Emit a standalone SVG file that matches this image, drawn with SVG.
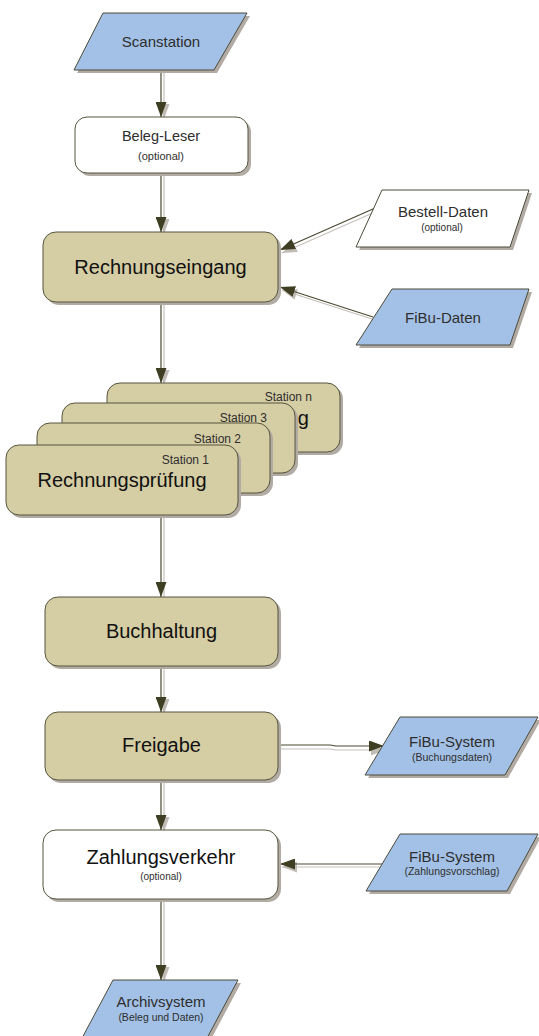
<svg xmlns="http://www.w3.org/2000/svg" width="539" height="1036" viewBox="0 0 539 1036">
<defs>
<style>
.sh{fill:#b2aba4;stroke:none}
.proc{fill:#d5cda4;stroke:#55553f;stroke-width:1}
.opt{fill:#ffffff;stroke:#55553f;stroke-width:1}
.data{fill:#a3c1e6;stroke:#4b4b3a;stroke-width:1}
.datw{fill:#ffffff;stroke:#4b4b3a;stroke-width:1}
text{font-family:"Liberation Sans",Arial,sans-serif;text-anchor:middle}
.big{font-size:20px;fill:#111}
.mid{font-size:15px;fill:#2e2e2e}
.sm{font-size:10.5px;fill:#2e2e2e}
.st{font-size:12px;fill:#2e2e2e;text-anchor:end}
.ln{fill:none;stroke:#4a4a33;stroke-width:1.2}
.lns{fill:none;stroke:#c6c0bb;stroke-width:1.2}
</style>
<marker id="ah" markerUnits="userSpaceOnUse" markerWidth="15" markerHeight="11" refX="15" refY="5.5" orient="auto">
<path d="M0,0 L15,5.5 L0,11 z" fill="#3e3e22"/>
</marker>
<marker id="ahs" markerUnits="userSpaceOnUse" markerWidth="15" markerHeight="11" refX="15" refY="5.5" orient="auto">
<path d="M0,0 L15,5.5 L0,11 z" fill="#c2bcb7"/>
</marker>
</defs>
<rect width="539" height="1036" fill="#ffffff"/>

<g id="connectors">
<path class="lns" marker-end="url(#ahs)" d="M164,72 L164,119"/>
<path class="ln" marker-end="url(#ah)" d="M161,70 L161,117"/>
<path class="lns" marker-end="url(#ahs)" d="M164,175 L164,234"/>
<path class="ln" marker-end="url(#ah)" d="M161,173 L161,232"/>
<path class="lns" marker-end="url(#ahs)" d="M384,208 L282,253"/>
<path class="ln" marker-end="url(#ah)" d="M382,205 L280,250"/>
<path class="lns" marker-end="url(#ahs)" d="M375,320 L282,290"/>
<path class="ln" marker-end="url(#ah)" d="M373,317 L280,287"/>
<path class="lns" marker-end="url(#ahs)" d="M164,304 L164,385"/>
<path class="ln" marker-end="url(#ah)" d="M161,302 L161,383"/>
<path class="lns" d="M164,518 L164,599"/>
<path class="ln" marker-end="url(#ah)" d="M161,515 L161,597"/>
<path class="lns" marker-end="url(#ahs)" d="M164,668 L164,714"/>
<path class="ln" marker-end="url(#ah)" d="M161,666 L161,712"/>
<path class="lns" marker-end="url(#ahs)" d="M280,749 L330,749 L336,750 L386,750"/>
<path class="ln" marker-end="url(#ah)" d="M278,745 L330,745 L336,746 L384,746"/>
<path class="lns" marker-end="url(#ahs)" d="M164,782 L164,832"/>
<path class="ln" marker-end="url(#ah)" d="M161,780 L161,830"/>
<path class="lns" marker-end="url(#ahs)" d="M384,867 L282,867"/>
<path class="ln" marker-end="url(#ah)" d="M382,864 L280,864"/>
<path class="lns" marker-end="url(#ahs)" d="M164,901 L164,982"/>
<path class="ln" marker-end="url(#ah)" d="M161,899 L161,980"/>
</g>

<g id="scanstation">
<polygon class="sh" points="106,16 250,16 217,73 77,73"/>
<polygon class="data" points="103,13 247,13 214,70 74,70"/>
<text class="mid" x="161" y="47">Scanstation</text>
</g>

<g id="beleg-leser">
<rect class="sh" x="78" y="120" width="173" height="56" rx="12"/>
<rect class="opt" x="75" y="117" width="173" height="56" rx="12"/>
<text x="161" y="141" style="font-size:14.5px;fill:#2e2e2e">Beleg-Leser</text>
<text x="161" y="160" style="font-size:11px;fill:#2e2e2e">(optional)</text>
</g>

<g id="rechnungseingang">
<rect class="sh" x="46" y="235" width="235" height="70" rx="13"/>
<rect class="proc" x="43" y="232" width="235" height="70" rx="13"/>
<text class="big" x="160.5" y="274">Rechnungseingang</text>
</g>

<g id="bestell-daten">
<polygon class="sh" points="385,193 532,193 513,250 359,250"/>
<polygon class="datw" points="382,190 529,190 510,247 356,247"/>
<text class="mid" x="443" y="217">Bestell-Daten</text>
<text x="442" y="231" style="font-size:10px;fill:#2e2e2e">(optional)</text>
</g>

<g id="fibu-daten">
<polygon class="sh" points="395,292 532,292 513,348 359,348"/>
<polygon class="data" points="392,289 529,289 510,345 356,345"/>
<text class="mid" x="443" y="323">FiBu-Daten</text>
</g>

<g id="station-n">
<rect class="sh" x="110" y="386" width="233" height="69" rx="13"/>
<rect class="proc" x="107" y="383" width="233" height="69" rx="13"/>
<text class="st" x="312" y="401">Station n</text>
<text class="big" x="309" y="425" style="text-anchor:end">ng</text>
</g>

<g id="station-3">
<rect class="sh" x="65" y="406" width="233" height="70" rx="13"/>
<rect class="proc" x="62" y="403" width="233" height="70" rx="13"/>
<text class="st" x="267" y="422">Station 3</text>
</g>

<g id="station-2">
<rect class="sh" x="40" y="426" width="233" height="70" rx="13"/>
<rect class="proc" x="37" y="423" width="233" height="70" rx="13"/>
<text class="st" x="241" y="443">Station 2</text>
</g>

<g id="station-1">
<rect class="sh" x="9" y="448" width="232" height="70" rx="13"/>
<rect class="proc" x="6" y="445" width="232" height="70" rx="13"/>
<text class="st" x="209" y="464">Station 1</text>
<text class="big" x="122" y="487">Rechnungsprüfung</text>
</g>

<g id="buchhaltung">
<rect class="sh" x="48" y="600" width="233" height="69" rx="13"/>
<rect class="proc" x="45" y="597" width="233" height="69" rx="13"/>
<text class="big" x="161.5" y="638">Buchhaltung</text>
</g>

<g id="freigabe">
<rect class="sh" x="48" y="715" width="233" height="68" rx="13"/>
<rect class="proc" x="45" y="712" width="233" height="68" rx="13"/>
<text class="big" x="161.5" y="752">Freigabe</text>
</g>

<g id="fibu-system-buchung">
<polygon class="sh" points="403,720 541,720 508,778 368,778"/>
<polygon class="data" points="400,717 538,717 505,775 365,775"/>
<text class="mid" x="452" y="747">FiBu-System</text>
<text class="sm" x="452" y="761">(Buchungsdaten)</text>
</g>

<g id="zahlungsverkehr">
<rect class="sh" x="46" y="833" width="235" height="69" rx="13"/>
<rect class="opt" x="43" y="830" width="235" height="69" rx="13"/>
<text class="big" x="161" y="864">Zahlungsverkehr</text>
<text x="161" y="880" style="font-size:10px;fill:#2e2e2e">(optional)</text>
</g>

<g id="fibu-system-zahlung">
<polygon class="sh" points="403,837 541,837 510,894 369,894"/>
<polygon class="data" points="400,834 538,834 507,891 366,891"/>
<text class="mid" x="452" y="862">FiBu-System</text>
<text class="sm" x="452" y="875">(Zahlungsvorschlag)</text>
</g>

<g id="archivsystem">
<polygon class="sh" points="116,983 241,983 209,1043 84,1043"/>
<polygon class="data" points="113,980 238,980 206,1040 81,1040"/>
<text class="mid" x="161" y="1007">Archivsystem</text>
<text class="sm" x="161" y="1021">(Beleg und Daten)</text>
</g>
</svg>
